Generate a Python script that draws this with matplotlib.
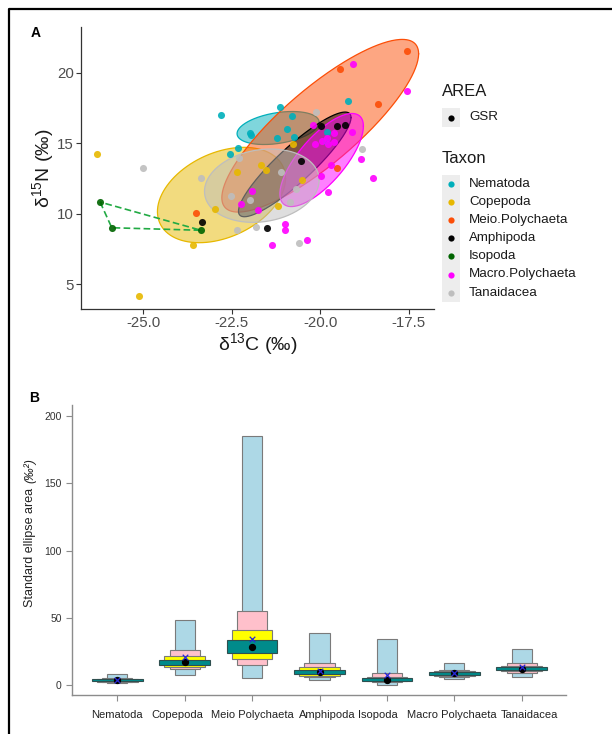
import numpy as np
import matplotlib
matplotlib.use('Agg')
import matplotlib.pyplot as plt
from matplotlib.patches import Rectangle, Polygon
from matplotlib.transforms import blended_transform_factory

plt.rcParams['font.family'] = ['Liberation Sans', 'DejaVu Sans']
plt.rcParams['mathtext.fontset'] = 'custom'
plt.rcParams['mathtext.rm'] = 'Liberation Sans'
plt.rcParams['mathtext.default'] = 'regular'

# ---------------- Panel A data ----------------
taxa = ['Nematoda', 'Copepoda', 'Meio.Polychaeta', 'Amphipoda', 'Isopoda',
        'Macro.Polychaeta', 'Tanaidacea']
taxon_colors = ['#00AFBB', '#E7B800', '#FC4E07', '#000000', '#006400', '#FF00FF', '#BEBEBE']

nem_c = [-22.80, -21.14, -21.97, -21.99, -20.80, -20.95, -21.22, -20.75, -22.32, -22.55, -19.21, -19.80, -19.84]
nem_n = [16.98, 17.59, 15.55, 15.75, 16.91, 16.00, 15.37, 15.44, 14.64, 14.24, 17.97, 15.82, 15.18]
cop_c = [-26.32, -25.11, -23.59, -22.97, -22.35, -21.66, -21.54, -21.20, -20.76, -20.51]
cop_n = [14.24, 4.17, 7.81, 10.36, 12.94, 13.48, 13.08, 10.55, 14.94, 12.37]
meio_c = [-23.51, -19.44, -17.54, -18.37, -19.52]
meio_n = [10.08, 20.24, 21.51, 17.80, 13.22]
amph_c = [-23.34, -21.51, -20.55, -19.99, -19.53, -19.30]
amph_n = [9.39, 8.97, 13.74, 16.22, 16.22, 16.31]
iso_c = [-26.22, -25.89, -23.37]
iso_n = [10.83, 9.01, 8.83]
macro_c = [-19.07, -17.54, -20.20, -19.11, -20.15, -19.96, -19.79, -19.80, -19.61, -19.61, -18.85,
           -19.70, -19.97, -18.50, -19.78, -21.92, -22.24, -21.75, -21.00, -21.00, -21.37, -20.37]
macro_n = [20.64, 18.68, 16.31, 15.77, 14.94, 15.18, 14.94, 15.35, 15.70, 15.11, 13.91,
           13.43, 12.68, 12.51, 11.52, 11.64, 10.69, 10.24, 9.30, 8.87, 7.79, 8.16]
tan_c = [-25.00, -23.36, -22.29, -22.52, -21.98, -21.81, -22.34, -21.10, -20.69, -20.85, -20.60, -20.12, -18.83]
tan_n = [13.27, 12.51, 13.93, 11.28, 10.95, 9.09, 8.83, 12.94, 11.79, 10.83, 7.95, 17.21, 14.57]

taxon_c = [nem_c, cop_c, meio_c, amph_c, iso_c, macro_c, tan_c]
taxon_n = [nem_n, cop_n, meio_n, amph_n, iso_n, macro_n, tan_n]

# standard ellipses (data units): centre, half x-extent, half y-extent,
# y offset of the right-most point from the centre
ell_taxa = ['Nematoda', 'Copepoda', 'Meio.Polychaeta', 'Amphipoda', 'Macro.Polychaeta', 'Tanaidacea']
ell_cx = [-21.19, -22.79, -20.00, -20.72, -19.96, -21.65]
ell_cy = [16.08, 11.33, 16.24, 13.50, 13.81, 11.99]
ell_ax = [1.16, 1.81, 2.78, 1.59, 1.18, 1.62]
ell_ay = [1.17, 3.38, 6.12, 3.71, 3.30, 2.60]
ell_off = [0.40, 1.18, 5.10, 3.32, 2.40, 0.40]

x_ticks_a = [-25.0, -22.5, -20.0, -17.5]
y_ticks_a = [5, 10, 15, 20]

# ---------------- Panel B data ----------------
groups_b = ['Nematoda', 'Copepoda', 'Meio Polychaeta', 'Amphipoda', 'Isopoda',
            'Macro Polychaeta', 'Tanaidacea']
ci99_lo = [1.7, 7.4, 5.0, 3.5, 0.3, 4.7, 5.7]
ci99_hi = [7.9, 48.0, 185.1, 38.9, 34.2, 16.1, 26.8]
ci95_lo = [2.2, 11.6, 15.1, 6.2, 2.0, 6.2, 8.9]
ci95_hi = [5.0, 25.7, 55.2, 16.1, 8.7, 11.2, 16.6]
ci75_lo = [2.6, 13.6, 19.6, 7.0, 2.8, 6.9, 10.2]
ci75_hi = [4.5, 21.3, 40.8, 13.1, 6.2, 10.4, 14.4]
ci50_lo = [3.0, 14.9, 23.8, 7.9, 3.2, 7.6, 10.9]
ci50_hi = [4.1, 18.6, 33.4, 11.2, 5.2, 9.7, 13.1]
sea_mode = [3.5, 16.8, 28.0, 9.4, 4.0, 8.9, 12.1]
sea_c = [3.9, 21.0, 33.9, 10.1, 7.4, 9.2, 13.1]
y_ticks_b = [0, 50, 100, 150, 200]
# horizontal shift of each category label (in category units) as laid out in the figure
label_shift_b = [0.0, -0.11, 0.0, 0.11, -0.13, -0.03, 0.12]

W, H = 612, 734
fig = plt.figure(figsize=(W / 100, H / 100), dpi=100)


def px_axes(x0, y0, x1, y1):
    return fig.add_axes([x0 / W, 1 - y1 / H, (x1 - x0) / W, (y1 - y0) / H])


# ================= Panel A =================
axA = px_axes(81, 27, 434, 309)
axA.set_xlim(-26.76, -16.785)
axA.set_ylim(3.25, 23.24)

t = np.linspace(0, 2 * np.pi, 300)
for i, name in enumerate(ell_taxa):
    col = taxon_colors[taxa.index(name)]
    b = np.sqrt(max(ell_ay[i] ** 2 - ell_off[i] ** 2, 1e-6))
    xs = ell_cx[i] + ell_ax[i] * np.cos(t)
    ys = ell_cy[i] + ell_off[i] * np.cos(t) + b * np.sin(t)
    axA.fill(xs, ys, facecolor=col, alpha=0.5, edgecolor='none', zorder=2 + i * 0.1)
    axA.plot(xs, ys, color=col, lw=0.9, zorder=2 + i * 0.1 + 0.05)

# Isopoda hull (dashed)
iso_idx = taxa.index('Isopoda')
hull = Polygon(np.column_stack([taxon_c[iso_idx], taxon_n[iso_idx]]), closed=True,
               fill=False, edgecolor='#22AA44', lw=1.2, ls=(0, (4, 2)), zorder=3)
axA.add_patch(hull)

for i in range(len(taxa)):
    axA.scatter(taxon_c[i], taxon_n[i], s=26, color=taxon_colors[i], alpha=0.9,
                linewidths=0, zorder=5)

for sp in ['top', 'right']:
    axA.spines[sp].set_visible(False)
for sp in ['left', 'bottom']:
    axA.spines[sp].set_color('#333333')
    axA.spines[sp].set_linewidth(0.9)
axA.set_xticks(x_ticks_a)
axA.set_xticklabels(['%.1f' % v for v in x_ticks_a])
axA.set_yticks(y_ticks_a)
axA.tick_params(colors='#333333', labelcolor='#4D4D4D', labelsize=10.8, length=3.5, width=0.8, pad=1.5)
axA.set_xlabel('δ$^{13}$C (‰)', fontsize=14, color='#1A1A1A', labelpad=1)
axA.set_ylabel('δ$^{15}$N (‰)', fontsize=14, color='#1A1A1A', labelpad=1)

# ================= Panel B =================
axB = px_axes(72, 405, 566, 695)
xpos = np.arange(1, len(groups_b) + 1)
axB.set_xlim(0.328, 7.657)
axB.set_ylim(-7.43, 208.2)

axB.bar(xpos, np.subtract(ci99_hi, ci99_lo), bottom=ci99_lo, width=0.30,
        color='#ADD8E6', edgecolor='#7A7A7A', lw=0.8, zorder=2)
axB.bar(xpos, np.subtract(ci95_hi, ci95_lo), bottom=ci95_lo, width=0.45,
        color='#FFC0CB', edgecolor='#7A7A7A', lw=0.8, zorder=3)
axB.bar(xpos, np.subtract(ci75_hi, ci75_lo), bottom=ci75_lo, width=0.60,
        color='#FFFF00', edgecolor='#7A7A7A', lw=0.8, zorder=4)
axB.bar(xpos, np.subtract(ci50_hi, ci50_lo), bottom=ci50_lo, width=0.75,
        color='#008B8B', edgecolor='#2F4F4F', lw=0.8, zorder=5)
axB.scatter(xpos, sea_mode, s=18, color='black', zorder=6)
axB.scatter(xpos, sea_c, s=16, marker='x', color='#2828D8', linewidths=0.9, zorder=7)

for sp in ['top', 'right']:
    axB.spines[sp].set_visible(False)
for sp in ['left', 'bottom']:
    axB.spines[sp].set_color('#8C8C8C')
    axB.spines[sp].set_linewidth(1.0)
axB.set_yticks(y_ticks_b)
axB.set_xticks(xpos)
axB.set_xticklabels([])
axB.tick_params(axis='y', colors='#8C8C8C', labelcolor='#333333', labelsize=7.5, length=4.5, width=0.8, pad=3)
axB.tick_params(axis='x', colors='#8C8C8C', length=4, width=0.8)
trB = blended_transform_factory(axB.transData, fig.transFigure)
for i, lab in enumerate(groups_b):
    axB.text(xpos[i] + label_shift_b[i], 1 - 715 / H, lab, transform=trB, fontsize=8,
             ha='center', va='center', color='#222222')

# ================= Overlay (labels, legend, border) =================
ov = fig.add_axes([0, 0, 1, 1])
ov.set_xlim(0, W)
ov.set_ylim(H, 0)
ov.axis('off')

ov.plot([9, 9, W + 5], [H + 5, 9, 9], color='black', lw=1.6, solid_capstyle='butt')
ov.text(31, 33, 'A', fontsize=10, fontweight='bold', ha='left', va='center')
ov.text(29, 398, 'B', fontsize=10, fontweight='bold', ha='left', va='center')

ov.text(30, 547, 'Standard ellipse area', rotation=90, fontsize=9, ha='center', va='center', color='#222222')
ov.text(30, 471, '(‰²)', rotation=90, fontsize=9, style='italic', ha='center', va='center', color='#222222')

# legend AREA
ov.text(442, 92, 'AREA', fontsize=12, ha='left', va='center', color='#1A1A1A')
ov.add_patch(Rectangle((441.7, 108), 18.3, 19, facecolor='#EDEDED', edgecolor='none'))
ov.scatter([451], [117.5], s=20, color='black', linewidths=0)
ov.text(469, 117.5, 'GSR', fontsize=9.6, ha='left', va='center', color='#1A1A1A')

# legend Taxon
ov.text(442, 158.5, 'Taxon', fontsize=12, ha='left', va='center', color='#1A1A1A')
ov.add_patch(Rectangle((441.7, 175), 18.3, 127, facecolor='#EDEDED', edgecolor='none'))
for i, name in enumerate(taxa):
    yy = 184.0 + i * 18.1
    ov.scatter([451], [yy], s=20, color=taxon_colors[i], linewidths=0)
    ov.text(469, yy, name, fontsize=9.6, ha='left', va='center', color='#1A1A1A')

fig.savefig('out.png', dpi=100)
